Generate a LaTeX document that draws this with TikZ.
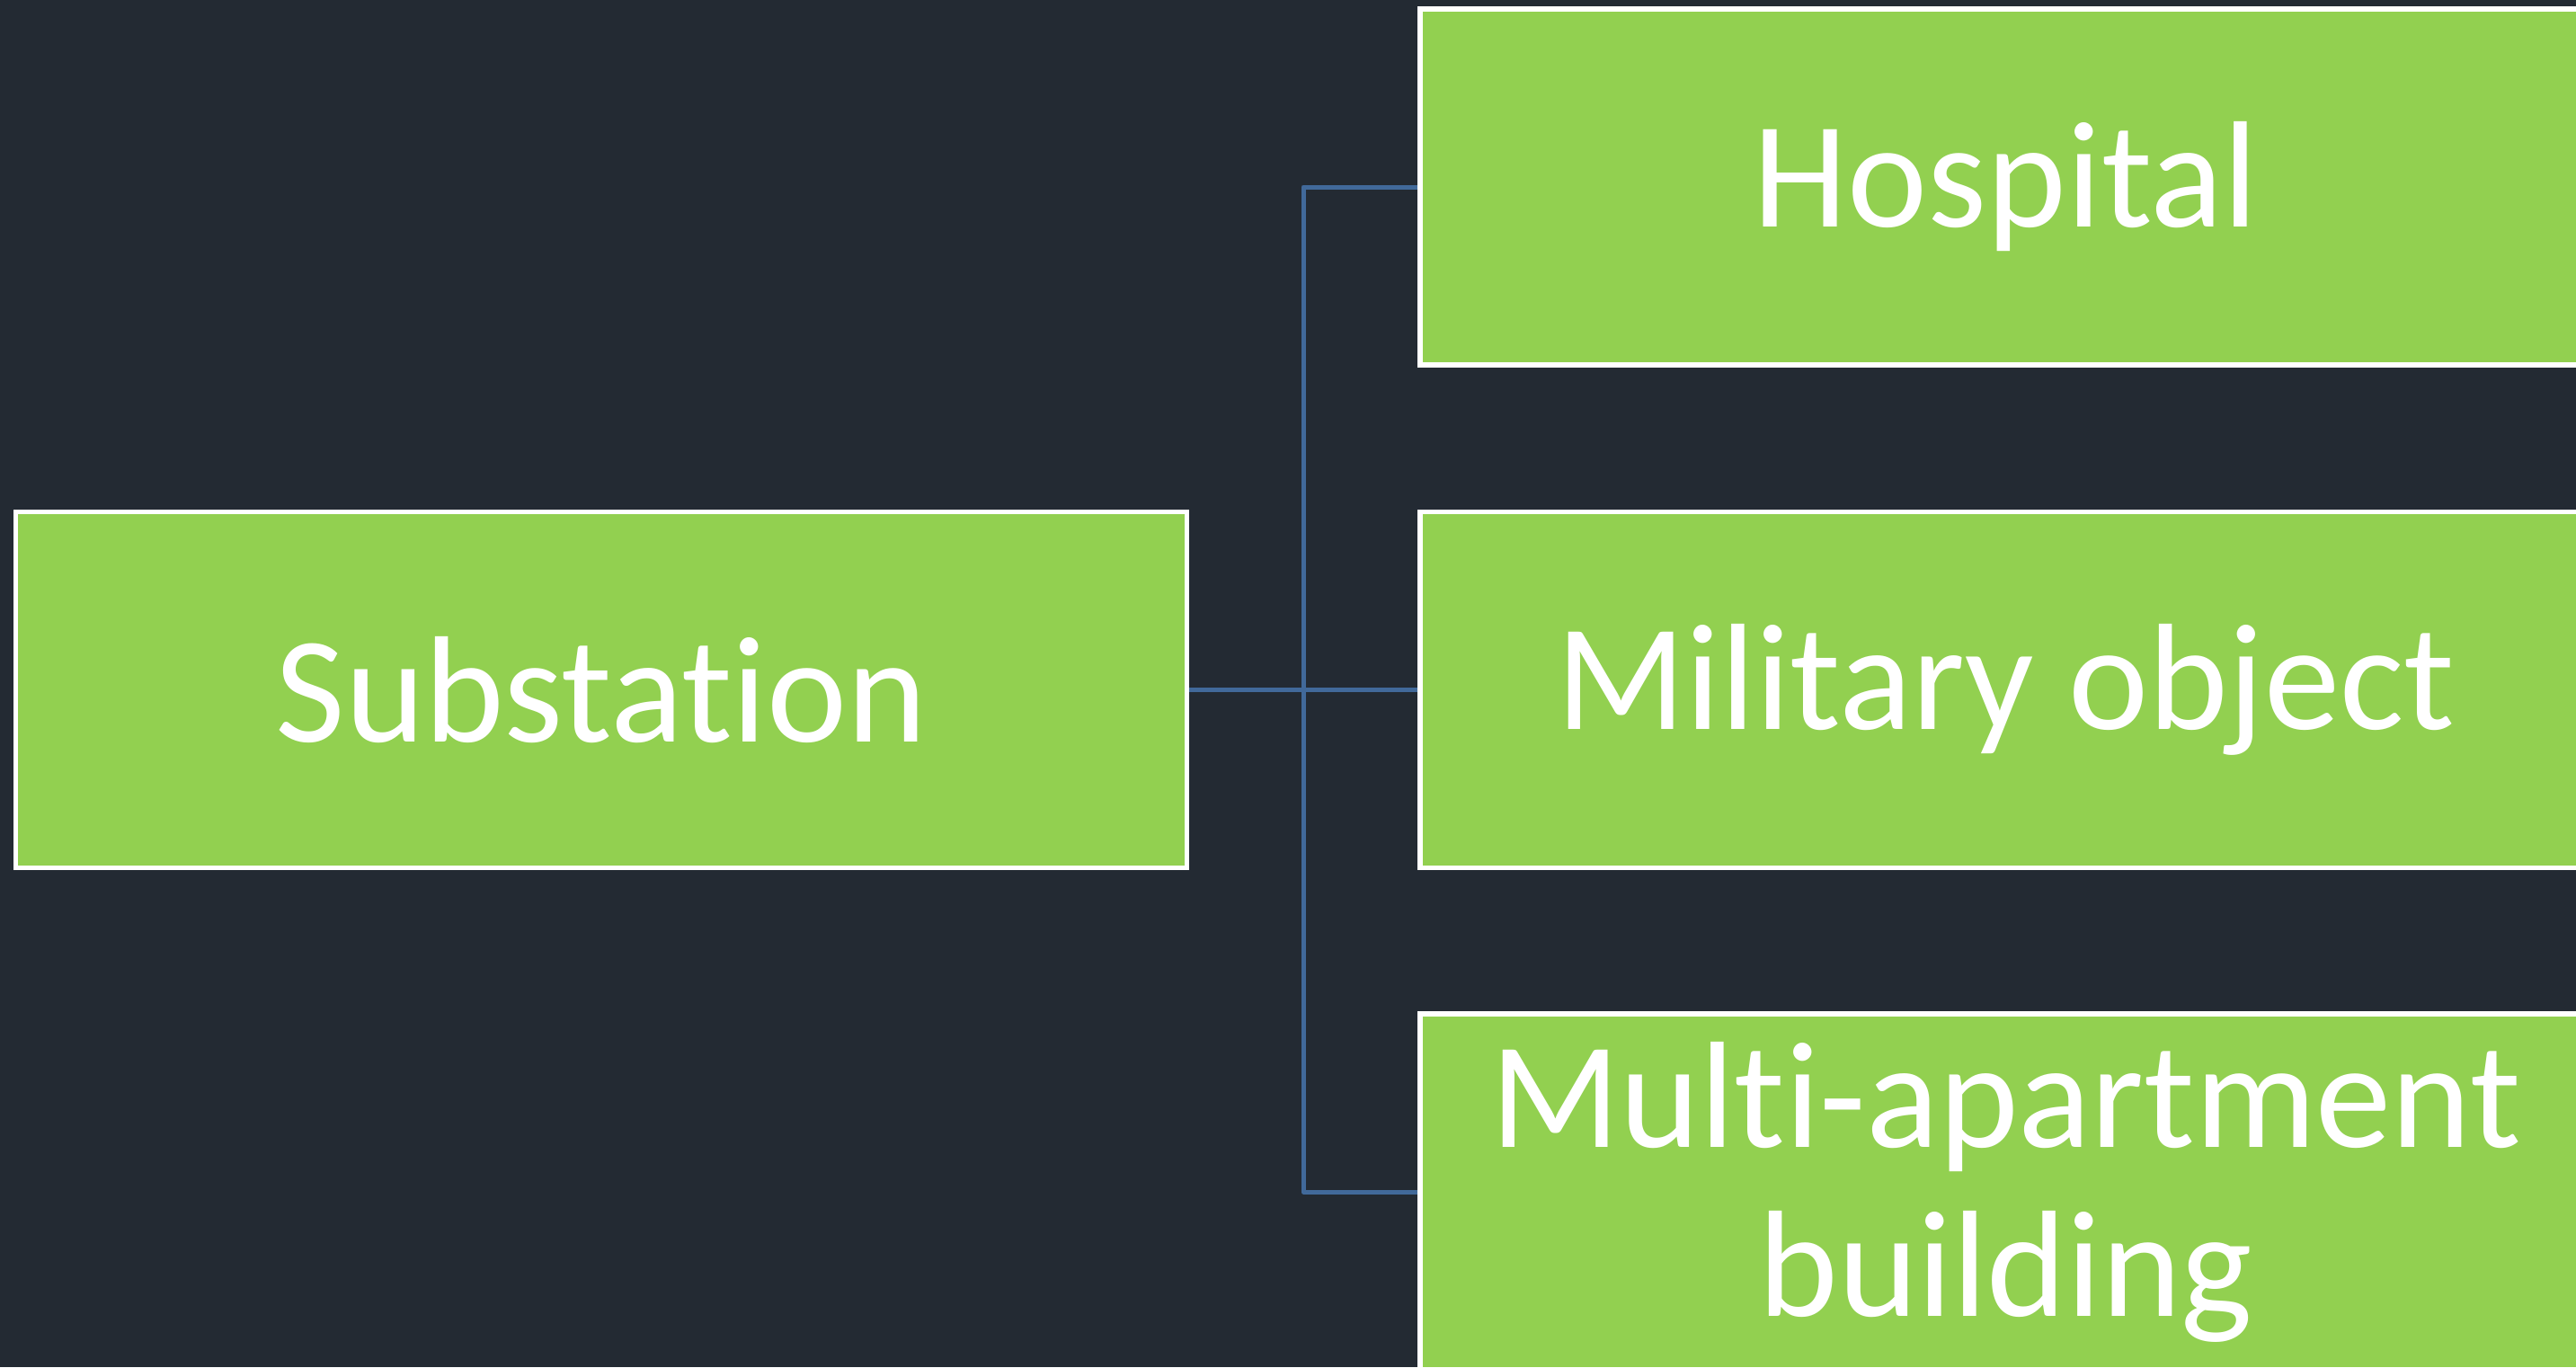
\documentclass[tikz,border=0pt]{standalone}
\usepackage{fontspec}
\setmainfont{Carlito}[Ligatures=NoCommon]
\definecolor{bgc}{HTML}{232A33}
\definecolor{boxc}{HTML}{92D050}
\definecolor{linec}{HTML}{41699A}
\begin{document}
\begin{tikzpicture}[
  box/.style={rectangle, fill=boxc, draw=white, line width=0.055cm,
    minimum width=13.03cm, minimum height=3.96cm, inner sep=0pt,
    text=white, align=center,
    font=\fontsize{48pt}{53.5pt}\selectfont},
  link/.style={draw=linec, line width=0.05cm, line join=round}
]
\useasboundingbox (0,0) rectangle (28.66,-15.21);
\fill[bgc] (0,0) rectangle (28.66,-15.21);
\clip (0,0) rectangle (28.66,-15.21);
\node[box] (sub) at (6.69,-7.675) {Substation};
\node[box] (hosp) at (22.315,-2.08) {Hospital};
\node[box] (mil) at (22.315,-7.675) {Military object};
\node[box] (multi) at (22.315,-13.26) {Multi-apartment\\building};
\coordinate (j) at (14.50,-7.68);
\draw[link] (sub.east) -- (mil.west);
\draw[link] (hosp.west) -| (j) |- (multi.west);
\end{tikzpicture}
\end{document}
